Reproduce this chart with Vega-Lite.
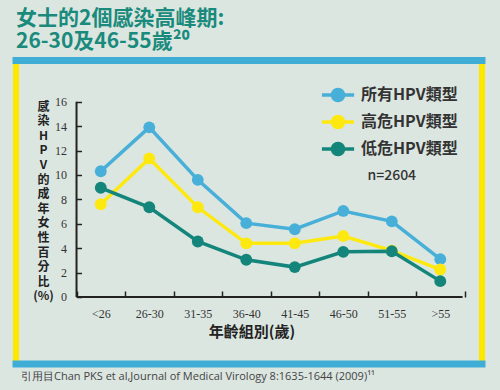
{
  "$schema": "https://vega.github.io/schema/vega-lite/v6.json",
  "autosize": "none",
  "width": 466,
  "height": 304,
  "padding": {"left": 16, "top": 60, "right": 18, "bottom": 26},
  "background": "#dce6e1",
  "view": {"stroke": "#ffe800", "strokeWidth": 6, "fill": null},
  "config": {
    "axisX": {
      "offset": -67,
      "domain": false,
      "titleFont": "Noto Sans CJK TC",
      "titleFontSize": 15,
      "titleFontWeight": "bold",
      "titleColor": "#222222",
      "titleX": 235.5,
      "titleY": 34,
      "titleAlign": "center",
      "titleBaseline": "middle",
      "labelAngle": 0,
      "labelFont": "Liberation Sans Narrow",
      "labelFontSize": 12,
      "labelColor": "#333333",
      "labelPadding": 17,
      "tickColor": "#222222",
      "tickWidth": 1.5,
      "tickSize": -6,
      "tickBand": "extent",
      "grid": false
    },
    "axisY": {
      "offset": -60.5,
      "domain": false,
      "titleFont": "Noto Sans CJK TC",
      "titleFontSize": 12,
      "titleFontWeight": "bold",
      "titleColor": "#222222",
      "titleAngle": 0,
      "titleAlign": "center",
      "titleBaseline": "top",
      "titleLineHeight": 14.6,
      "titleX": -33.5,
      "titleY": 41,
      "labelFont": "Liberation Sans Narrow",
      "labelFontSize": 12,
      "labelColor": "#333333",
      "labelPadding": 15,
      "tickColor": "#222222",
      "tickWidth": 1.5,
      "tickSize": -5,
      "grid": false
    }
  },
  "title": {
    "text": ["女士的2個感染高峰期:", "26-30及46-55歲²⁰"],
    "anchor": "start",
    "frame": "group",
    "font": "Noto Sans CJK TC",
    "fontSize": 21,
    "fontWeight": "bold",
    "color": "#1a8a7c",
    "lineHeight": 22.5,
    "offset": 4
  },
  "data": {
    "values": [
      {"age": "<26", "type": "所有HPV類型", "pct": 10.3},
      {"age": "26-30", "type": "所有HPV類型", "pct": 13.9},
      {"age": "31-35", "type": "所有HPV類型", "pct": 9.6},
      {"age": "36-40", "type": "所有HPV類型", "pct": 6.05},
      {"age": "41-45", "type": "所有HPV類型", "pct": 5.55},
      {"age": "46-50", "type": "所有HPV類型", "pct": 7.05},
      {"age": "51-55", "type": "所有HPV類型", "pct": 6.2},
      {"age": ">55", "type": "所有HPV類型", "pct": 3.1},
      {"age": "<26", "type": "高危HPV類型", "pct": 7.6},
      {"age": "26-30", "type": "高危HPV類型", "pct": 11.35},
      {"age": "31-35", "type": "高危HPV類型", "pct": 7.35},
      {"age": "36-40", "type": "高危HPV類型", "pct": 4.4},
      {"age": "41-45", "type": "高危HPV類型", "pct": 4.4},
      {"age": "46-50", "type": "高危HPV類型", "pct": 5.0},
      {"age": "51-55", "type": "高危HPV類型", "pct": 3.8},
      {"age": ">55", "type": "高危HPV類型", "pct": 2.25},
      {"age": "<26", "type": "低危HPV類型", "pct": 8.95},
      {"age": "26-30", "type": "低危HPV類型", "pct": 7.35},
      {"age": "31-35", "type": "低危HPV類型", "pct": 4.55},
      {"age": "36-40", "type": "低危HPV類型", "pct": 3.05},
      {"age": "41-45", "type": "低危HPV類型", "pct": 2.45},
      {"age": "46-50", "type": "低危HPV類型", "pct": 3.7},
      {"age": "51-55", "type": "低危HPV類型", "pct": 3.75},
      {"age": ">55", "type": "低危HPV類型", "pct": 1.3}
    ]
  },
  "layer": [
    {
      "data": {"values": [{"edge": "top", "v": 19.375}, {"edge": "bottom", "v": -5.489}]},
      "mark": {"type": "rule", "color": "#3fadd6", "strokeWidth": 7, "strokeCap": "square"},
      "encoding": {
        "y": {"field": "v", "type": "quantitative", "title": ["感", "染", "H", "P", "V", "的", "成", "年", "女", "性", "百", "分", "比", "(%)"], "axis": {"values": [0, 2, 4, 6, 8, 10, 12, 14, 16]}, "scale": {"domain": [-5.489, 19.416], "nice": false, "zero": false}}
      }
    },
    {
      "data": {"values": [{"axisline": "y"}]},
      "mark": {"type": "rule", "color": "#222222", "strokeWidth": 2},
      "encoding": {
        "x": {"datum": "<26", "bandPosition": 0, "title": "年齡組別(歲)", "scale": {"type": "band", "domain": ["<26", "26-30", "31-35", "36-40", "41-45", "46-50", "51-55", ">55"], "paddingInner": 0, "paddingOuter": 0.804, "align": 0.776}},
        "y": {"datum": 0, "title": ["感", "染", "H", "P", "V", "的", "成", "年", "女", "性", "百", "分", "比", "(%)"], "axis": {"values": [0, 2, 4, 6, 8, 10, 12, 14, 16]}, "scale": {"domain": [-5.489, 19.416], "nice": false, "zero": false}},
        "y2": {"datum": 16}
      }
    },
    {
      "data": {"values": [{"axisline": "x"}]},
      "mark": {"type": "rule", "color": "#222222", "strokeWidth": 2},
      "encoding": {
        "x": {"datum": "<26", "bandPosition": 0, "title": "年齡組別(歲)", "scale": {"type": "band", "domain": ["<26", "26-30", "31-35", "36-40", "41-45", "46-50", "51-55", ">55"], "paddingInner": 0, "paddingOuter": 0.804, "align": 0.776}},
        "x2": {"datum": ">55", "bandPosition": 0.96},
        "y": {"datum": 0, "title": ["感", "染", "H", "P", "V", "的", "成", "年", "女", "性", "百", "分", "比", "(%)"], "axis": {"values": [0, 2, 4, 6, 8, 10, 12, 14, 16]}, "scale": {"domain": [-5.489, 19.416], "nice": false, "zero": false}}
      }
    },
    {
      "mark": {"type": "line", "strokeWidth": 3.5},
      "encoding": {
        "x": {"field": "age", "type": "nominal", "title": "年齡組別(歲)", "scale": {"type": "band", "domain": ["<26", "26-30", "31-35", "36-40", "41-45", "46-50", "51-55", ">55"], "paddingInner": 0, "paddingOuter": 0.804, "align": 0.776}},
        "y": {"field": "pct", "type": "quantitative", "title": ["感", "染", "H", "P", "V", "的", "成", "年", "女", "性", "百", "分", "比", "(%)"], "axis": {"values": [0, 2, 4, 6, 8, 10, 12, 14, 16]}, "scale": {"domain": [-5.489, 19.416], "nice": false, "zero": false}},
        "color": {
          "field": "type",
          "type": "nominal",
          "sort": ["所有HPV類型", "高危HPV類型", "低危HPV類型"],
          "scale": {"domain": ["所有HPV類型", "高危HPV類型", "低危HPV類型"], "range": ["#48b0d8", "#fde910", "#13857a"]},
          "legend": {
            "orient": "none",
            "legendX": 313,
            "legendY": 26,
            "title": null,
            "padding": 0,
            "symbolType": "M-2.3,0L2.3,0M0.79,0A0.79,0.79,0,1,1,-0.79,0A0.79,0.79,0,1,1,0.79,0Z",
            "symbolSize": 196,
            "symbolStrokeWidth": 3.5,
            "symbolOpacity": 1,
            "labelFont": "Noto Sans CJK TC",
            "labelFontSize": 16,
            "labelFontWeight": "bold",
            "labelColor": "#333333",
            "labelOffset": 14,
            "rowPadding": 1,
            "encode": {
              "symbols": {
                "update": {
                  "fill": {"scale": "color", "field": "value"},
                  "stroke": {"scale": "color", "field": "value"},
                  "opacity": {"value": 1}
                }
              }
            }
          }
        }
      }
    },
    {
      "mark": {"type": "point", "filled": true, "size": 140, "opacity": 1},
      "encoding": {
        "x": {"field": "age", "type": "nominal", "title": "年齡組別(歲)", "scale": {"type": "band", "domain": ["<26", "26-30", "31-35", "36-40", "41-45", "46-50", "51-55", ">55"], "paddingInner": 0, "paddingOuter": 0.804, "align": 0.776}},
        "y": {"field": "pct", "type": "quantitative", "title": ["感", "染", "H", "P", "V", "的", "成", "年", "女", "性", "百", "分", "比", "(%)"], "axis": {"values": [0, 2, 4, 6, 8, 10, 12, 14, 16]}, "scale": {"domain": [-5.489, 19.416], "nice": false, "zero": false}},
        "color": {"field": "type", "type": "nominal"}
      }
    },
    {
      "data": {"values": [{"note": "n=2604"}]},
      "mark": {"type": "text", "align": "center", "baseline": "middle", "font": "Noto Sans CJK TC", "fontSize": 14, "fontWeight": 500, "color": "#333333"},
      "encoding": {
        "x": {"datum": "51-55", "title": "年齡組別(歲)", "scale": {"type": "band", "domain": ["<26", "26-30", "31-35", "36-40", "41-45", "46-50", "51-55", ">55"], "paddingInner": 0, "paddingOuter": 0.804, "align": 0.776}},
        "y": {"datum": 9.9, "title": ["感", "染", "H", "P", "V", "的", "成", "年", "女", "性", "百", "分", "比", "(%)"], "axis": {"values": [0, 2, 4, 6, 8, 10, 12, 14, 16]}, "scale": {"domain": [-5.489, 19.416], "nice": false, "zero": false}},
        "text": {"field": "note"}
      }
    },
    {
      "data": {"values": [{"note": "引用目Chan PKS et al,Journal of Medical Virology 8:1635-1644 (2009)¹¹"}]},
      "mark": {"type": "text", "align": "left", "baseline": "middle", "font": "Open Sans", "fontSize": 11, "color": "#444444", "dx": -55.5},
      "encoding": {
        "x": {"datum": "<26", "bandPosition": 0, "title": "年齡組別(歲)", "scale": {"type": "band", "domain": ["<26", "26-30", "31-35", "36-40", "41-45", "46-50", "51-55", ">55"], "paddingInner": 0, "paddingOuter": 0.804, "align": 0.776}},
        "y": {"datum": -6.55, "title": ["感", "染", "H", "P", "V", "的", "成", "年", "女", "性", "百", "分", "比", "(%)"], "axis": {"values": [0, 2, 4, 6, 8, 10, 12, 14, 16]}, "scale": {"domain": [-5.489, 19.416], "nice": false, "zero": false}},
        "text": {"field": "note"}
      }
    }
  ]
}
